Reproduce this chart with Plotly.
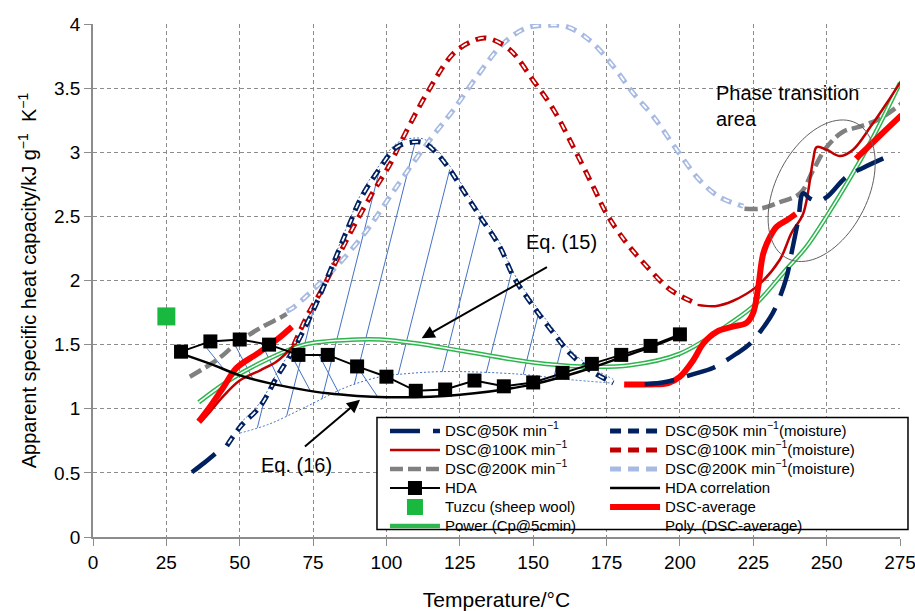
import numpy as np
import plotly.graph_objects as go

# ---------------- data ----------------
# DSC@50K min-1 (two segments, None = gap)
dsc50_T = [33.7, 38, 42.2, None, 188, 195.5, 204.6, 211.4, 219.3, 224, 230.7, 233, 236.4, 238, 240.3, 242,
           244.3, 247, 250, 256.8, 262.5, 271]
dsc50_C = [0.505, 0.58, 0.66, None, 1.19, 1.21, 1.27, 1.32, 1.43, 1.51, 1.71, 1.81, 2.03, 2.21, 2.47, 2.68,
           2.64, 2.62, 2.65, 2.81, 2.88, 2.97]
# DSC@50K min-1 (moisture)
dsc50m_T = [45.6, 50.2, 57, 62.7, 68.3, 75.1, 82, 87.6, 91, 96.7, 103.5, 109.2, 113, 117.2, 121.7, 126.2,
            131.3, 138.7, 143.3, 150, 156.9, 162.6, 169.4, 177.3]
dsc50m_C = [0.71, 0.86, 1.02, 1.25, 1.46, 1.77, 2.14, 2.45, 2.63, 2.84, 3.04, 3.08, 3.07, 2.99, 2.86, 2.70,
            2.52, 2.26, 2.03, 1.80, 1.59, 1.43, 1.30, 1.20]
# DSC@100K min-1
dsc100_T = [36.5, 40, 44.5, 50, 57, 62.7, 68.3, None, 206, 212, 218, 226, 234, 238, 242, 245.4, 246.6, 250,
            254.5, 259, 265, 270.4, 275.5]
dsc100_C = [0.89, 0.98, 1.10, 1.22, 1.30, 1.37, 1.49, None, 1.81, 1.80, 1.84, 1.95, 2.16, 2.37, 2.52, 2.94,
            3.04, 3.02, 2.97, 3.02, 3.20, 3.38, 3.56]
# DSC@100K min-1 (moisture)
dsc100m_T = [68.3, 72.9, 78.5, 86.5, 94.4, 101.3, 104.7, 113.8, 122.8, 129.6, 134.2, 142, 150, 157, 163.7,
             170.5, 175, 181.9, 188.7, 196.6, 204.6]
dsc100m_C = [1.49, 1.72, 1.95, 2.32, 2.65, 2.91, 3.07, 3.46, 3.77, 3.87, 3.89, 3.80, 3.56, 3.33, 3.04,
             2.73, 2.52, 2.29, 2.11, 1.93, 1.83]
# DSC@200K min-1
dsc200_T = [33, 42.2, 49, 57, 63.8, 66, None, 222, 227.3, 234, 241, 245.4, 250, 255.6, 261.3, 268, 275.5]
dsc200_C = [1.25, 1.38, 1.51, 1.63, 1.71, 1.74, None, 2.56, 2.56, 2.61, 2.68, 2.86, 3.04, 3.16, 3.20, 3.26, 3.38]
# DSC@200K min-1 (moisture)
dsc200m_T = [66, 68.3, 75.1, 84.2, 93.3, 99, 105.8, 114.9, 122.8, 130.8, 139.9, 147.8, 154.6, 161.4, 169.4,
             177.3, 184.1, 190.9, 198.9, 206.8, 213.6, 221.6]
dsc200m_C = [1.76, 1.79, 1.93, 2.14, 2.39, 2.58, 2.81, 3.10, 3.33, 3.59, 3.85, 3.97, 3.99, 3.98, 3.87,
             3.67, 3.46, 3.28, 3.02, 2.78, 2.65, 2.58]
# HDA
hda_T = [30, 40, 50, 60, 70, 80, 90, 100, 110, 120, 130, 140, 150, 160, 170, 180, 190, 200]
hda_C = [1.445, 1.525, 1.54, 1.50, 1.42, 1.42, 1.33, 1.25, 1.14, 1.15, 1.22, 1.175, 1.205, 1.28, 1.35,
         1.42, 1.49, 1.58]
# HDA correlation
hdac_T = [30, 40, 50, 60, 70, 80, 90, 100, 110, 120, 130, 140, 150, 160, 170, 180, 190, 200]
hdac_C = [1.43, 1.35, 1.26, 1.20, 1.155, 1.12, 1.10, 1.09, 1.09, 1.10, 1.12, 1.15, 1.19, 1.25, 1.32,
          1.40, 1.48, 1.57]
# Tuzcu (sheep wool)
tuzcu_T = [25]
tuzcu_C = [1.72]
# DSC-average
avg_T = [36, 40, 44.5, 49, 56, 62.7, 67.8, None, 181, 190, 196, 200, 204.6, 208, 212.5, 218, 222.7, 225,
         226.7, 228.4, 230.7, 233, 236.4, 239.5, None, 260, 265, 270, 275.5]
avg_C = [0.90, 1.02, 1.17, 1.32, 1.43, 1.54, 1.64, None, 1.19, 1.19, 1.20, 1.25, 1.38, 1.51, 1.60, 1.64,
         1.67, 1.75, 1.95, 2.21, 2.34, 2.42, 2.47, 2.52, None, 2.95, 3.06, 3.17, 3.29]
# Power (Cp@5cmin)
pow_T = [36, 47, 59, 72, 90, 98, 110, 126, 150, 166, 183, 200, 218, 226, 236, 243, 250, 264, 275]
pow_C = [1.05, 1.23, 1.38, 1.50, 1.54, 1.54, 1.51, 1.45, 1.36, 1.33, 1.34, 1.43, 1.68, 1.82, 2.08, 2.26,
         2.50, 3.04, 3.54]
# lower boundary of the hatched (Eq. 15) area
low_T = [50, 60, 73, 86.5, 98, 105, 120, 145, 161, 177]
low_C = [0.81, 0.88, 1.02, 1.17, 1.25, 1.27, 1.29, 1.27, 1.23, 1.20]
hatch_start = [56, 66, 78, 89, 104, 119, 134, 146.6, 157]
hatch_left_start = [37.6, 47.5, 57.4, 67, 77, 90]

# ---------------- styling ----------------
NAVY = "#002060"
DRED = "#C00000"
RED = "#FF0000"
GRAY = "#808080"
LBLUE = "#A7BAE2"
GREEN = "#2DB64E"
TGREEN = "#19B940"
HBLUE = "#4472C4"
FONT = "Liberation Sans, Arial, sans-serif"


def lg(s):
    return '<span style="font-size:15px">' + s + '</span>'


fig = go.Figure()

# hatch lines for the Eq. (15) area
fine = np.linspace(min(dsc50m_T), max(dsc50m_T), 3000)
upper = np.interp(fine, dsc50m_T, dsc50m_C)
slope = 0.091
hx, hy = [], []
for t0 in hatch_start:
    c0 = float(np.interp(t0, low_T, low_C))
    line = c0 + slope * (fine - t0)
    mask = (fine > t0) & (line >= upper)
    if mask.any():
        t1 = float(fine[mask][0])
        hx += [t0, t1, None]
        hy += [c0, c0 + slope * (t1 - t0), None]
# hatch lines between HDA and its correlation (Eq. 16 area)
for t0 in hatch_left_start:
    hx += [t0, t0 + 7, None]
    hy += [float(np.interp(t0, hda_T, hda_C)), float(np.interp(t0 + 7, hdac_T, hdac_C)), None]
fig.add_trace(go.Scatter(x=hx, y=hy, mode="lines", line=dict(color=HBLUE, width=1), showlegend=False,
                         hoverinfo="skip"))
fig.add_trace(go.Scatter(x=low_T, y=low_C, mode="lines", line=dict(color=HBLUE, width=1, dash="2px,2px",
                         shape="spline"), showlegend=False, hoverinfo="skip"))
fig.add_trace(go.Scatter(x=dsc50m_T[1:], y=[c + 0.03 for c in dsc50m_C[1:]], mode="lines",
                         line=dict(color=HBLUE, width=1, dash="2px,2px", shape="spline"),
                         showlegend=False, hoverinfo="skip"))


def hollow(x, y, color, name, legend):
    fig.add_trace(go.Scatter(x=x, y=y, mode="lines", name=lg(name), legend=legend,
                             line=dict(color=color, width=5, dash="11px,7px", shape="spline")))
    fig.add_trace(go.Scatter(x=x, y=y, mode="lines", showlegend=False, hoverinfo="skip",
                             line=dict(color="white", width=1.8, dash="0px,2.5px,6px,9.5px", shape="spline")))


hollow(dsc200m_T, dsc200m_C, LBLUE, "DSC@200K min<sup>−1</sup>(moisture)", "legend2")
hollow(dsc100m_T, dsc100m_C, DRED, "DSC@100K min<sup>−1</sup>(moisture)", "legend2")
hollow(dsc50m_T, dsc50m_C, NAVY, "DSC@50K min<sup>−1</sup>(moisture)", "legend2")

fig.add_trace(go.Scatter(x=dsc200_T, y=dsc200_C, mode="lines", name=lg("DSC@200K min<sup>−1</sup>"),
                         legend="legend", line=dict(color=GRAY, width=4.5, dash="13px,5px", shape="spline")))
# Power (double line)
fig.add_trace(go.Scatter(x=pow_T, y=pow_C, mode="lines", name=lg("Power (Cp@5cmin)"), legend="legend",
                         line=dict(color=GREEN, width=4.5, shape="spline")))
fig.add_trace(go.Scatter(x=pow_T, y=pow_C, mode="lines", showlegend=False, hoverinfo="skip",
                         line=dict(color="white", width=1.5, shape="spline")))
fig.add_trace(go.Scatter(x=dsc100_T, y=dsc100_C, mode="lines", name=lg("DSC@100K min<sup>−1</sup>"),
                         legend="legend", line=dict(color=DRED, width=2.5, shape="spline")))
fig.add_trace(go.Scatter(x=avg_T, y=avg_C, mode="lines", name=lg("DSC-average"), legend="legend2",
                         line=dict(color=RED, width=6, shape="spline")))
fig.add_trace(go.Scatter(x=dsc50_T, y=dsc50_C, mode="lines", name=lg("DSC@50K min<sup>−1</sup>"),
                         legend="legend", line=dict(color=NAVY, width=4.5, dash="30px,13px", shape="spline")))
fig.add_trace(go.Scatter(x=hdac_T, y=hdac_C, mode="lines", name=lg("HDA correlation"), legend="legend2",
                         line=dict(color="black", width=2.5, shape="spline")))
fig.add_trace(go.Scatter(x=hda_T, y=hda_C, mode="lines+markers", name=lg("HDA"), legend="legend",
                         line=dict(color="black", width=2),
                         marker=dict(symbol="square", size=14, color="black")))
fig.add_trace(go.Scatter(x=tuzcu_T, y=tuzcu_C, mode="markers", name=lg("Tuzcu (sheep wool)"), legend="legend",
                         marker=dict(symbol="square", size=18, color=TGREEN)))
fig.add_trace(go.Scatter(x=[None], y=[None], mode="lines", name=lg("Poly. (DSC-average)"), legend="legend2",
                         line=dict(color="rgba(0,0,0,0)", width=1)))

# legend order inside each column
rank = {"DSC@50K min<sup>−1</sup>": 1, "DSC@100K min<sup>−1</sup>": 2, "DSC@200K min<sup>−1</sup>": 3,
        "HDA": 4, "Tuzcu (sheep wool)": 5, "Power (Cp@5cmin)": 6,
        "DSC@50K min<sup>−1</sup>(moisture)": 1, "DSC@100K min<sup>−1</sup>(moisture)": 2,
        "DSC@200K min<sup>−1</sup>(moisture)": 3, "HDA correlation": 4, "DSC-average": 5,
        "Poly. (DSC-average)": 6}
for tr in fig.data:
    if tr.name:
        for k, v in rank.items():
            if tr.name == lg(k):
                tr.legendrank = v

# ellipse around the phase-transition area (pixel-size axes converted to data units)
PXT, PXC = 2.936, 128.4
ec_T, ec_C, ea, eb, eang = 248.3, 2.70, 76, 46, np.deg2rad(63)
tt = np.linspace(0, 2 * np.pi, 90)
ex = ec_T + (ea * np.cos(tt) * np.cos(eang) - eb * np.sin(tt) * np.sin(eang)) / PXT
ey = ec_C + (ea * np.cos(tt) * np.sin(eang) + eb * np.sin(tt) * np.cos(eang)) / PXC
path = "M " + " L ".join(f"{a:.3f},{b:.4f}" for a, b in zip(ex, ey)) + " Z"
fig.add_shape(type="path", path=path, xref="x", yref="y", line=dict(color="#606060", width=1))

# legend box (white, framed) drawn above the traces; the legends sit on top of it
fig.add_shape(type="rect", xref="paper", yref="paper", x0=0.3519, x1=1.0099, y0=0.0146, y1=0.2327,
              fillcolor="white", line=dict(color="black", width=1.5), layer="above")

ann_font = dict(family=FONT, size=20, color="black")
fig.add_annotation(x=211.6, y=3.36, text="Phase transition<br>area", showarrow=False, xanchor="left",
                   align="left", font=ann_font)
fig.add_annotation(x=147, y=2.30, text="Eq. (15)", showarrow=False, xanchor="left", font=ann_font)
fig.add_annotation(x=56.5, y=0.56, text="Eq. (16)", showarrow=False, xanchor="left", font=ann_font)
fig.add_annotation(x=112, y=1.55, ax=155.2, ay=2.11, axref="x", ayref="y", xref="x", yref="y", text="",
                   showarrow=True, arrowhead=2, arrowsize=1.3, arrowwidth=2, arrowcolor="black")
fig.add_annotation(x=91, y=1.07, ax=71.7, ay=0.695, axref="x", ayref="y", xref="x", yref="y", text="",
                   showarrow=True, arrowhead=2, arrowsize=1.3, arrowwidth=2, arrowcolor="black")

axis_common = dict(showline=True, linecolor="#8C8C8C", linewidth=1.5, ticks="outside", tickcolor="#8C8C8C",
                   ticklen=7, showgrid=True, gridcolor="#8C8C8C", gridwidth=1, griddash="4px,3px",
                   zeroline=False, tickfont=dict(family=FONT, size=19, color="black"),
                   ticklabeloverflow="allow")
fig.update_xaxes(range=[0, 275], dtick=25, tick0=0,
                 title=dict(text="Temperature/°C", font=dict(family=FONT, size=21, color="black"), standoff=27),
                 **axis_common)
fig.update_yaxes(range=[0, 4], dtick=0.5, tick0=0,
                 title=dict(text="Apparent specific heat capacity/kJ g<sup>−1</sup>  K<sup>−1</sup>",
                            font=dict(family=FONT, size=20, color="black"), standoff=12),
                 **axis_common)

leg_common = dict(orientation="v", xanchor="left", yanchor="top", bgcolor="rgba(0,0,0,0)", borderwidth=0,
                  font=dict(family=FONT, size=12, color="black"), itemwidth=50, traceorder="normal",
                  tracegroupgap=0)
fig.update_layout(
    width=915, height=611,
    margin=dict(l=93, r=15, t=24, b=73.5, autoexpand=False),
    plot_bgcolor="white", paper_bgcolor="white",
    font=dict(family=FONT, color="black"),
    legend=dict(x=0.3618, y=0.2347, **leg_common),
    legend2=dict(x=0.6345, y=0.2347, **leg_common),
)

fig.write_html("out.html")
